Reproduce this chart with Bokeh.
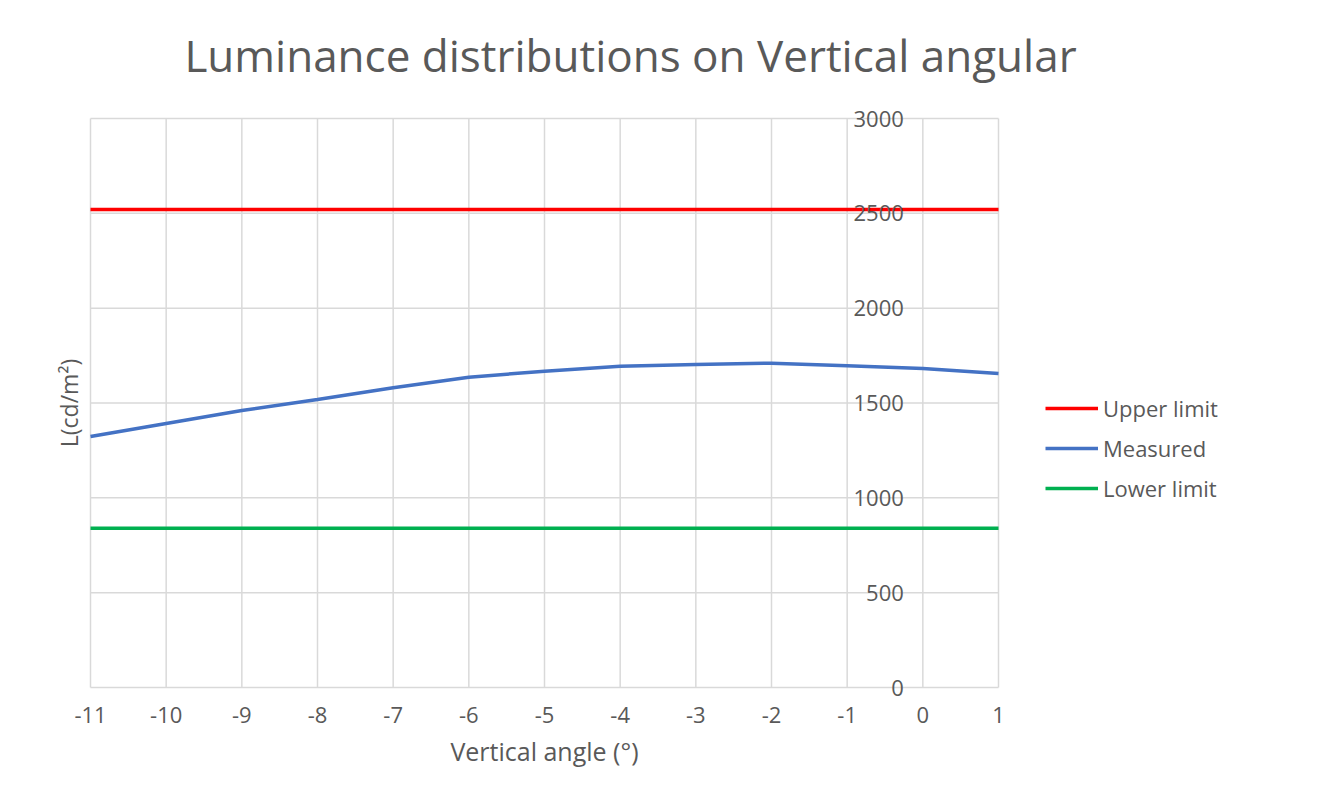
from bokeh.plotting import figure
from bokeh.models import Range1d, Legend, LegendItem
from bokeh.core.properties import value
from bokeh.embed import file_html
from bokeh.resources import INLINE

# ---- data ----
angles = [-11, -10, -9, -8, -7, -6, -5, -4, -3, -2, -1, 0, 1]
measured = [1323, 1392, 1460, 1518, 1580, 1636, 1668, 1694, 1703, 1710, 1696, 1682, 1655]
upper = [2520] * 13
lower = [840] * 13
x_ticks = [-11, -10, -9, -8, -7, -6, -5, -4, -3, -2, -1, 0, 1]
x_labels = ["-11", "-10", "-9", "-8", "-7", "-6", "-5", "-4", "-3", "-2", "-1", "0", "1"]
y_ticks = [0, 500, 1000, 1500, 2000, 2500, 3000]
y_labels = ["0", "500", "1000", "1500", "2000", "2500", "3000"]
series_names = ["Upper limit", "Measured", "Lower limit"]

# ---- layout (pixels) ----
W, H = 1244, 801
PL, PR, PT, PB = 90, 998, 118, 687
TITLE_CX = 630
X0, X1 = x_ticks[0], x_ticks[-1]
Y0, Y1 = y_ticks[0], y_ticks[-1]
sx = (X1 - X0) / (PR - PL)
sy = (Y1 - Y0) / (PB - PT)
xr = Range1d(X0 - PL * sx, X1 + (W - PR) * sx)
yr = Range1d(Y0 - (H - PB) * sy, Y1 + PT * sy)

TXT = "#595959"
GRID = "#d9d9d9"
FONT = "Open Sans"

p = figure(width=W, height=H, x_range=xr, y_range=yr, output_backend="svg",
           toolbar_location=None, x_axis_location=None, y_axis_location=None,
           min_border=0, min_border_left=0, min_border_right=0,
           min_border_top=0, min_border_bottom=0)
p.outline_line_color = None
p.grid.visible = False
p.background_fill_color = "white"
p.border_fill_color = "white"

# gridlines
p.segment(x0=x_ticks, y0=[Y0] * len(x_ticks), x1=x_ticks, y1=[Y1] * len(x_ticks),
          line_color=GRID, line_width=1.5)
p.segment(x0=[X0] * len(y_ticks), y0=y_ticks, x1=[X1] * len(y_ticks), y1=y_ticks,
          line_color=GRID, line_width=1.5)

# series
r_up = p.line(angles, upper, line_color="#ff0000", line_width=3.5)
r_me = p.line(angles, measured, line_color="#4472c4", line_width=3.5)
r_lo = p.line(angles, lower, line_color="#00b050", line_width=3.5)

# tick labels
p.text(x=x_ticks, y=[Y0] * len(x_ticks), text=x_labels, text_align="center",
       text_baseline="middle", y_offset=27, text_font=value(FONT),
       text_font_size="22px", text_color=TXT)
p.text(x=[0] * len(y_ticks), y=y_ticks, text=y_labels, text_align="right",
       text_baseline="middle", x_offset=-19, text_font=value(FONT),
       text_font_size="22px", text_color=TXT)

# axis titles and chart title
p.text(x=[(X0 + X1) / 2], y=[Y0], text=["Vertical angle (°)"], text_align="center",
       text_baseline="middle", y_offset=63, text_font=value(FONT),
       text_font_size="25px", text_color=TXT)
p.text(x=[X0], y=[(Y0 + Y1) / 2], text=["L(cd/m²)"], angle=1.5707963,
       text_align="center", text_baseline="middle", x_offset=-22,
       text_font=value(FONT), text_font_size="23px", text_color=TXT)
p.text(x=[xr.start + TITLE_CX * sx], y=[Y1], text=["Luminance distributions on Vertical angular"],
       text_align="center", text_baseline="middle", y_offset=-64,
       text_font=value(FONT), text_font_size="44px", text_color=TXT)

legend = Legend(items=[LegendItem(label=series_names[0], renderers=[r_up]),
                       LegendItem(label=series_names[1], renderers=[r_me]),
                       LegendItem(label=series_names[2], renderers=[r_lo])],
                location=(1045, H - 503))
legend.glyph_width = 53
legend.glyph_height = 30
legend.label_height = 30
legend.spacing = 10
legend.padding = 0
legend.margin = 0
legend.label_standoff = 5
legend.label_text_font = FONT
legend.label_text_font_size = "22px"
legend.label_text_color = TXT
legend.border_line_color = None
legend.background_fill_alpha = 0
p.add_layout(legend, "center")

open("out.html", "w").write(file_html(p, INLINE))
